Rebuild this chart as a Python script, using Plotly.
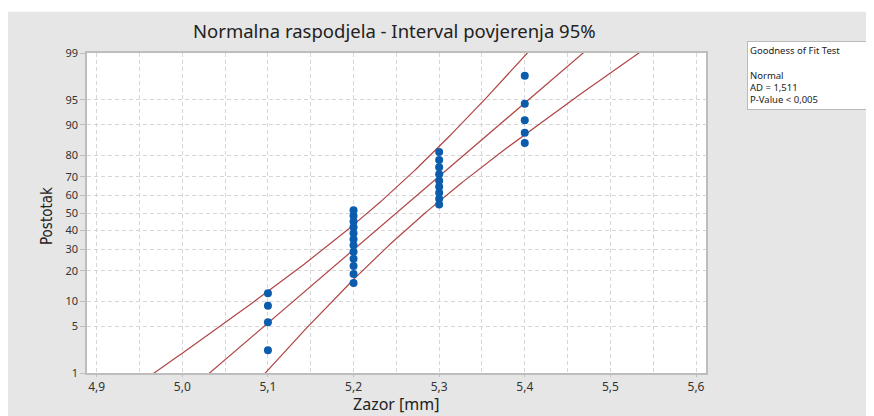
import numpy as np
import plotly.graph_objects as go
from statistics import NormalDist

# ---- data ----
zazor_values = [5.1, 5.2, 5.3, 5.4]          # measured gap values [mm]
zazor_counts = [4, 12, 9, 5]                  # number of observations at each value
percent_ticks = [1, 5, 10, 20, 30, 40, 50, 60, 70, 80, 90, 95, 99]
x_ticks = [4.9, 5.0, 5.1, 5.2, 5.3, 5.4, 5.5, 5.6]
x_tick_labels = ["4,9", "5,0", "5,1", "5,2", "5,3", "5,4", "5,5", "5,6"]
gof_title = "Goodness of Fit Test"
gof_dist = "Normal"
gof_ad = "AD = 1,511"
gof_p = "P-Value &lt; 0,005"
title_text = "Normalna raspodjela - Interval povjerenja 95%"
x_title = "Zazor [mm]"
y_title = "Postotak"

# ---- statistics (Minitab-style normal probability plot) ----
nd = NormalDist()
data = np.sort(np.repeat(zazor_values, zazor_counts))
n = len(data)
mu = data.mean()
sigma = data.std(ddof=1)
ranks = np.arange(1, n + 1)
pp = (ranks - 0.3) / (n + 0.4)
z_pts = np.array([nd.inv_cdf(p) for p in pp])

z_line = np.linspace(-3.0, 3.0, 301)
x_mid = mu + sigma * z_line
half = nd.inv_cdf(0.975) * sigma * np.sqrt(1.0 / n + z_line ** 2 / (2.0 * n))
x_lo = x_mid - half
x_hi = x_mid + half

y_tickvals = [nd.inv_cdf(p / 100.0) for p in percent_ticks]
y_ticktext = [str(p) for p in percent_ticks]

line_col = "#B04545"
dot_col = "#0B5CAD"
grid_col = "#D6D6D6"
axis_col = "#BDBDBD"
txt_col = "#333333"
FONT = "Noto Sans"

fig = go.Figure()
for xs in (x_lo, x_mid, x_hi):
    fig.add_trace(go.Scatter(x=xs, y=z_line, mode="lines",
                             line=dict(color=line_col, width=1.2),
                             hoverinfo="skip", showlegend=False))
fig.add_trace(go.Scatter(x=data, y=z_pts, mode="markers",
                         marker=dict(color=dot_col, size=8, line=dict(width=0)),
                         showlegend=False))

# page body has an 8px margin; figure coordinates = page pixels - 8
OFF = 8
W, H = 874 - OFF, 416 - OFF
L, R, T, B = 87 - OFF, 706 - OFF, 52.5 - OFF, 373.5 - OFF
def px(xp):  # page pixel -> paper x
    return (xp - OFF - L) / (R - L)
def py(yp):  # page pixel -> paper y
    return (B - (yp - OFF)) / (B - T)

fig.update_layout(
    width=W, height=H,
    margin=dict(l=L, r=W - R, t=T, b=H - B, pad=0),
    paper_bgcolor="#E6E6E6",
    plot_bgcolor="white",
    separators=",.",
    font=dict(family=FONT, color=txt_col),
    showlegend=False,
    xaxis=dict(
        range=[4.9 - 9.7 / 856, 5.6 + 10 / 856],
        tickvals=x_ticks, ticktext=x_tick_labels,
        ticks="outside", ticklen=2, tickcolor=axis_col,
        tickfont=dict(size=12, color=txt_col, family=FONT),
        showgrid=True, gridcolor=grid_col, griddash="4px,3px", gridwidth=1,
        minor=dict(dtick=0.05, tick0=4.9, showgrid=True, gridcolor=grid_col,
                   griddash="4px,3px", gridwidth=1, ticks=""),
        showline=True, linecolor=axis_col, linewidth=1.5, mirror=True,
        zeroline=False, fixedrange=True,
    ),
    yaxis=dict(
        range=[nd.inv_cdf(0.01), nd.inv_cdf(0.99)],
        tickvals=y_tickvals, ticktext=y_ticktext,
        ticks="outside", ticklen=5, tickcolor=axis_col,
        tickfont=dict(size=11, color=txt_col, family=FONT),
        showgrid=True, gridcolor=grid_col, griddash="4px,3px", gridwidth=1,
        showline=True, linecolor=axis_col, linewidth=1.5, mirror=True,
        zeroline=False, fixedrange=True,
    ),
    shapes=[
        dict(type="rect", xref="paper", yref="paper", layer="below",
             x0=px(0), x1=px(W + 20), y0=py(11), y1=py(0),
             fillcolor="white", line=dict(width=0)),
    ],
    annotations=[
        dict(text=title_text, xref="paper", yref="paper",
             x=px(394), y=py(30), xanchor="center", yanchor="middle",
             showarrow=False, font=dict(size=18.5, color="#222222", family=FONT)),
        dict(text=x_title, xref="paper", yref="paper",
             x=px(396), y=py(405), xanchor="center", yanchor="middle",
             showarrow=False, font=dict(size=16, color="#222222", family=FONT)),
        dict(text=y_title, xref="paper", yref="paper", textangle=-90,
             x=px(47), y=py(216), xanchor="center", yanchor="middle",
             showarrow=False,
             font=dict(size=15, color="#222222",
                       family="Liberation Sans Narrow, DejaVu Sans Condensed, " + FONT)),
        dict(text=gof_title + "<br><br>" + gof_dist + "<br>" + gof_ad + "<br>" + gof_p,
             xref="paper", yref="paper", x=px(747), y=py(40),
             xanchor="left", yanchor="top", align="left", valign="top",
             showarrow=False, bgcolor="white", bordercolor="#BBBBBB", borderwidth=1,
             borderpad=2, width=120, height=63,
             font=dict(size=9.5, color="#222222", family=FONT)),
    ],
)

fig.write_html("out.html")
